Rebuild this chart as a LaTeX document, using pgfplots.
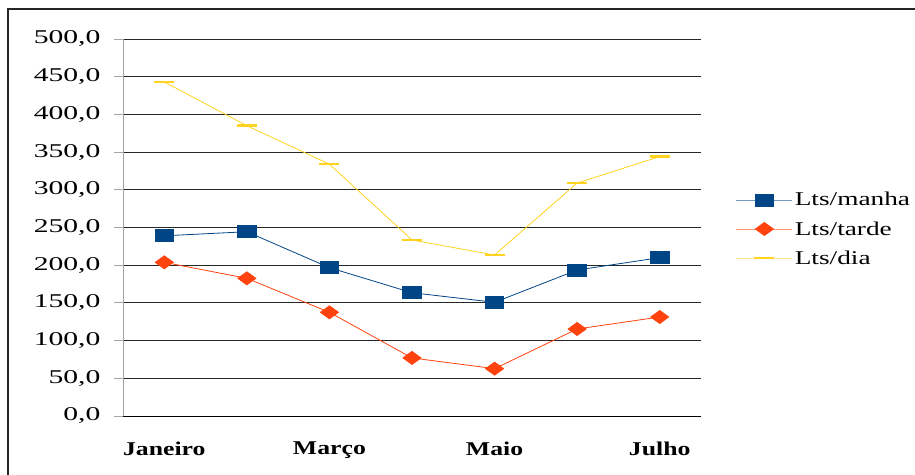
\documentclass[border=0pt]{standalone}
\usepackage{pgfplots}
\pgfplotsset{compat=1.18}
\usepackage{fontspec}
\setmainfont{Liberation Serif}[FakeStretch=1.4]
\newfontfamily\yfont{Liberation Serif}[FakeStretch=1.52]
\newfontfamily\xfont{Liberation Serif}[FakeStretch=1.32]
\definecolor{cblue}{HTML}{004586}
\definecolor{corange}{HTML}{FF420E}
\definecolor{cyellow}{HTML}{FFD320}
\begin{document}
\begin{tikzpicture}[x=1pt,y=1pt]
\useasboundingbox (0,0) rectangle (915,474);
\draw[line width=1.5pt, black!85] (8,-10) rectangle (930,465);
\begin{axis}[at={(123pt,58pt)}, anchor=south west, scale only axis,
  width=578pt, height=377pt,
  xmin=0.5, xmax=7.5, ymin=0, ymax=500,
  xtick={1,3,5,7}, xticklabels={Janeiro,Março,Maio,Julho},
  minor xtick={0.5,1.5,...,7.5},
  ytick={0,50,...,500},
  axis x line*=bottom, axis y line*=left,
  x axis line style={black, line width=0.8pt},
  y axis line style={black!35, line width=0.8pt},
  ymajorgrids, grid style={black!85, line width=0.8pt},
  tick align=outside,
  major tick length=9pt, minor tick length=7pt,
  xtick style={draw=none},
  minor x tick style={black, line width=0.8pt},
  ytick style={black!35, line width=0.8pt},
  /pgf/number format/assume math mode=true,
  /pgf/number format/fixed, /pgf/number format/fixed zerofill,
  /pgf/number format/precision=1, /pgf/number format/use comma,
  /pgf/number format/1000 sep={},
  yticklabel style={font=\fontsize{19.5}{22}\yfont, xshift=-10pt},
  xticklabel style={font=\fontsize{19.5}{22}\xfont\bfseries, yshift=-13pt},
  legend style={at={(axis description cs:1.055,0.496)}, anchor=west, draw=none, fill=none,
    font=\fontsize{19.5}{22}\selectfont, row sep=10pt, /tikz/every even column/.append style={column sep=4pt}},
  legend cell align=left,
  legend image code/.code={\draw[draw opacity=0.55] (0pt,0pt) -- (56pt,0pt); \draw plot[only marks] coordinates {(28pt,0pt)};},
]
\addplot[cblue, line width=0.8pt, mark=square*, mark size=6pt, mark options={solid, xscale=1.55}] coordinates {
(1,239) (2,244.4) (3,196.7) (4,163.5) (5,150.8) (6,193.6) (7,210)};
\addlegendentry{Lts/manha}
\addplot[corange, line width=0.8pt, mark=diamond*, mark size=6.5pt, mark options={solid, xscale=1.85}] coordinates {
(1,203.8) (2,182.6) (3,137.5) (4,77) (5,62.8) (6,115.4) (7,131.3)};
\addlegendentry{Lts/tarde}
\addplot[cyellow, line width=0.8pt, mark=-, mark size=10pt, mark options={solid, line width=2.5pt}] coordinates {
(1,443) (2,385) (3,334) (4,233.4) (5,213.5) (6,309) (7,344)};
\addlegendentry{Lts/dia}
\end{axis}
\end{tikzpicture}
\end{document}
